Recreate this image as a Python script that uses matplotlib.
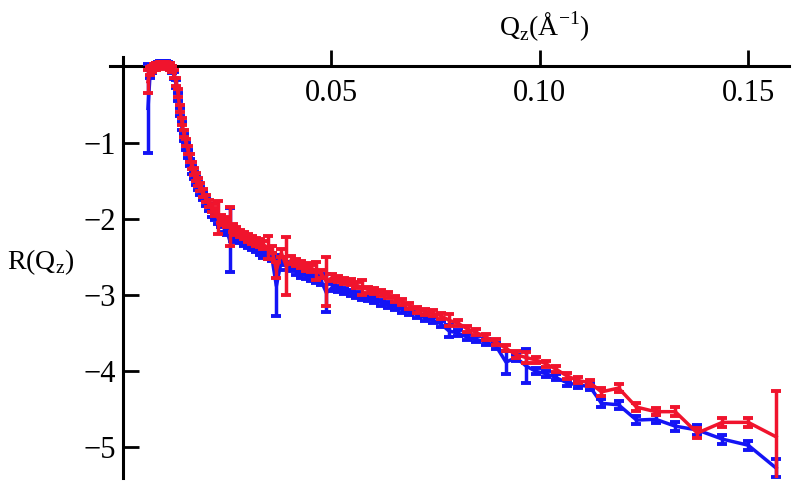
import matplotlib
matplotlib.use("Agg")
import matplotlib.pyplot as plt
from matplotlib.ticker import FixedLocator, FixedFormatter

plt.rcParams['font.family'] = ['Liberation Serif', 'DejaVu Serif']
plt.rcParams['mathtext.fontset'] = 'custom'
plt.rcParams['mathtext.rm'] = 'Liberation Serif'

# Q values (Å^-1)
q = [0.0060, 0.0065, 0.0069, 0.0074, 0.0079, 0.0084, 0.0089, 0.0093, 0.0098, 0.0103,
     0.0108, 0.0112, 0.0117, 0.0122, 0.0127, 0.0132, 0.0136, 0.0141, 0.0146, 0.0151,
     0.0156, 0.0160, 0.0165, 0.0170, 0.0175, 0.0179, 0.0184, 0.0191, 0.0199, 0.0206,
     0.0213, 0.0220, 0.0227, 0.0234, 0.0242, 0.0249, 0.0256, 0.0263, 0.0270, 0.0280,
     0.0290, 0.0299, 0.0309, 0.0318, 0.0328, 0.0337, 0.0347, 0.0357, 0.0368, 0.0380,
     0.0392, 0.0404, 0.0416, 0.0428, 0.0440, 0.0452, 0.0464, 0.0476, 0.0488, 0.0502,
     0.0517, 0.0531, 0.0546, 0.0560, 0.0574, 0.0589, 0.0603, 0.0620, 0.0636, 0.0653,
     0.0670, 0.0687, 0.0706, 0.0725, 0.0744, 0.0763, 0.0782, 0.0804, 0.0825, 0.0847,
     0.0871, 0.0895, 0.0919, 0.0943, 0.0967, 0.0990, 0.1014, 0.1038, 0.1065, 0.1091,
     0.1120, 0.1148, 0.1189, 0.1232, 0.1278, 0.1325, 0.1378, 0.1438, 0.1500, 0.1567]

# red series: log10 R(Qz)
red = [-0.20, -0.06, -0.03, -0.01, 0.00, 0.01, 0.02, 0.02, 0.02, 0.02,
       0.01, 0.00, -0.03, -0.10, -0.20, -0.35, -0.55, -0.72, -0.88, -1.00,
       -1.10, -1.20, -1.30, -1.38, -1.45, -1.52, -1.58, -1.66, -1.73, -1.80,
       -1.86, -1.91, -1.98, -2.00, -2.03, -2.06, -2.10, -2.12, -2.16, -2.19,
       -2.22, -2.25, -2.28, -2.30, -2.32, -2.34, -2.38, -2.40, -2.67, -2.45,
       -2.62, -2.54, -2.57, -2.60, -2.63, -2.65, -2.68, -2.72, -2.82, -2.77,
       -2.79, -2.81, -2.83, -2.87, -2.90, -2.93, -2.95, -2.97, -3.00, -3.05,
       -3.09, -3.14, -3.19, -3.22, -3.24, -3.27, -3.33, -3.37, -3.44, -3.49,
       -3.55, -3.62, -3.70, -3.78, -3.82, -3.85, -3.90, -3.97, -4.06, -4.12,
       -4.15, -4.27, -4.22, -4.47, -4.53, -4.53, -4.81, -4.67, -4.67, -4.86]
red_err = [0.15, 0.05, 0.04, 0.04, 0.04, 0.04, 0.04, 0.04, 0.04, 0.04,
           0.04, 0.04, 0.04, 0.05, 0.05, 0.05, 0.05, 0.05, 0.05, 0.05,
           0.05, 0.05, 0.05, 0.05, 0.05, 0.05, 0.05, 0.05, 0.05, 0.05,
           0.05, 0.05, 0.22, 0.05, 0.05, 0.05, 0.25, 0.05, 0.05, 0.05,
           0.05, 0.05, 0.05, 0.05, 0.05, 0.05, 0.15, 0.05, 0.10, 0.05,
           0.38, 0.05, 0.05, 0.05, 0.05, 0.05, 0.12, 0.05, 0.32, 0.05,
           0.04, 0.04, 0.04, 0.04, 0.10, 0.04, 0.04, 0.04, 0.04, 0.04,
           0.04, 0.04, 0.04, 0.04, 0.04, 0.04, 0.08, 0.04, 0.04, 0.04,
           0.04, 0.04, 0.04, 0.04, 0.07, 0.04, 0.04, 0.04, 0.04, 0.04,
           0.04, 0.05, 0.05, 0.05, 0.05, 0.06, 0.06, 0.06, 0.06, 0.60]

# blue series: log10 R(Qz)
blue = [-0.55, -0.10, -0.04, -0.01, 0.01, 0.02, 0.03, 0.03, 0.03, 0.03,
        0.02, 0.00, -0.04, -0.12, -0.23, -0.40, -0.60, -0.78, -0.93, -1.05,
        -1.15, -1.26, -1.36, -1.43, -1.50, -1.57, -1.63, -1.70, -1.78, -1.85,
        -1.92, -1.97, -2.02, -2.06, -2.12, -2.16, -2.28, -2.24, -2.25, -2.27,
        -2.30, -2.33, -2.36, -2.39, -2.42, -2.46, -2.48, -2.50, -2.88, -2.55,
        -2.62, -2.64, -2.68, -2.72, -2.74, -2.76, -2.79, -2.82, -2.97, -2.90,
        -2.92, -2.95, -2.97, -3.00, -3.02, -3.04, -3.07, -3.10, -3.13, -3.16,
        -3.19, -3.22, -3.26, -3.30, -3.33, -3.38, -3.47, -3.50, -3.55, -3.58,
        -3.62, -3.67, -3.88, -3.82, -3.93, -4.00, -4.03, -4.08, -4.15, -4.18,
        -4.20, -4.42, -4.44, -4.64, -4.63, -4.72, -4.77, -4.89, -4.97, -5.27]
blue_err = [0.58, 0.05, 0.04, 0.04, 0.04, 0.04, 0.04, 0.04, 0.04, 0.04,
            0.04, 0.04, 0.04, 0.05, 0.05, 0.05, 0.05, 0.05, 0.05, 0.05,
            0.05, 0.05, 0.05, 0.05, 0.05, 0.05, 0.05, 0.05, 0.05, 0.05,
            0.05, 0.05, 0.05, 0.05, 0.05, 0.05, 0.42, 0.05, 0.05, 0.05,
            0.05, 0.05, 0.05, 0.05, 0.05, 0.05, 0.05, 0.05, 0.40, 0.05,
            0.05, 0.05, 0.05, 0.05, 0.05, 0.05, 0.05, 0.05, 0.25, 0.05,
            0.04, 0.04, 0.04, 0.04, 0.04, 0.04, 0.04, 0.04, 0.04, 0.04,
            0.04, 0.04, 0.04, 0.04, 0.04, 0.04, 0.08, 0.04, 0.04, 0.04,
            0.04, 0.04, 0.15, 0.04, 0.22, 0.04, 0.04, 0.04, 0.04, 0.04,
            0.04, 0.05, 0.05, 0.05, 0.05, 0.06, 0.06, 0.06, 0.06, 0.12]

x_ticks = [0.05, 0.10, 0.15]
x_tick_labels = ["0.05", "0.10", "0.15"]
y_ticks = [-1, -2, -3, -4, -5]
y_tick_labels = ["\u22121", "\u22122", "\u22123", "\u22124", "\u22125"]

fig = plt.figure(figsize=(8, 4.86), dpi=100)
ax = fig.add_axes([0.1381, 0.0165, 0.8482, 0.8671])

blue_c = '#1414f5'
red_c = '#f0142d'
ax.errorbar(q, blue, yerr=blue_err, color=blue_c, lw=2.5, elinewidth=2.5,
            capsize=3.8, capthick=2.8, zorder=3)
ax.errorbar(q, red, yerr=red_err, color=red_c, lw=2.5, elinewidth=2.5,
            capsize=3.8, capthick=2.8, zorder=4)

ax.set_xlim(-0.003, 0.1598)
ax.set_ylim(-5.4, 0.13)

for s in ['top', 'right']:
    ax.spines[s].set_visible(False)
ax.spines['left'].set_position(('data', 0))
ax.spines['bottom'].set_position(('data', 0))
for s in ['left', 'bottom']:
    ax.spines[s].set_linewidth(2.2)
    ax.spines[s].set_zorder(2)

ax.xaxis.set_major_locator(FixedLocator(x_ticks))
ax.xaxis.set_major_formatter(FixedFormatter(x_tick_labels))
ax.yaxis.set_major_locator(FixedLocator(y_ticks))
ax.yaxis.set_major_formatter(FixedFormatter(y_tick_labels))
ax.tick_params(axis='x', direction='in', length=11.5, width=2, pad=9, labelsize=22)
ax.tick_params(axis='y', direction='in', length=11.5, width=2, pad=5, labelsize=22)

fig.text(41 / 800, 1 - 262 / 486, r"R(Q$_{\mathregular{z}}$)", fontsize=20,
         ha='center', va='center')
fig.text(544 / 800, 1 - 27 / 486, r"Q$_{\mathregular{z}}$(Å$^{\mathregular{-1}}$)",
         fontsize=20, ha='center', va='center')

fig.savefig("out.png", dpi=100)
